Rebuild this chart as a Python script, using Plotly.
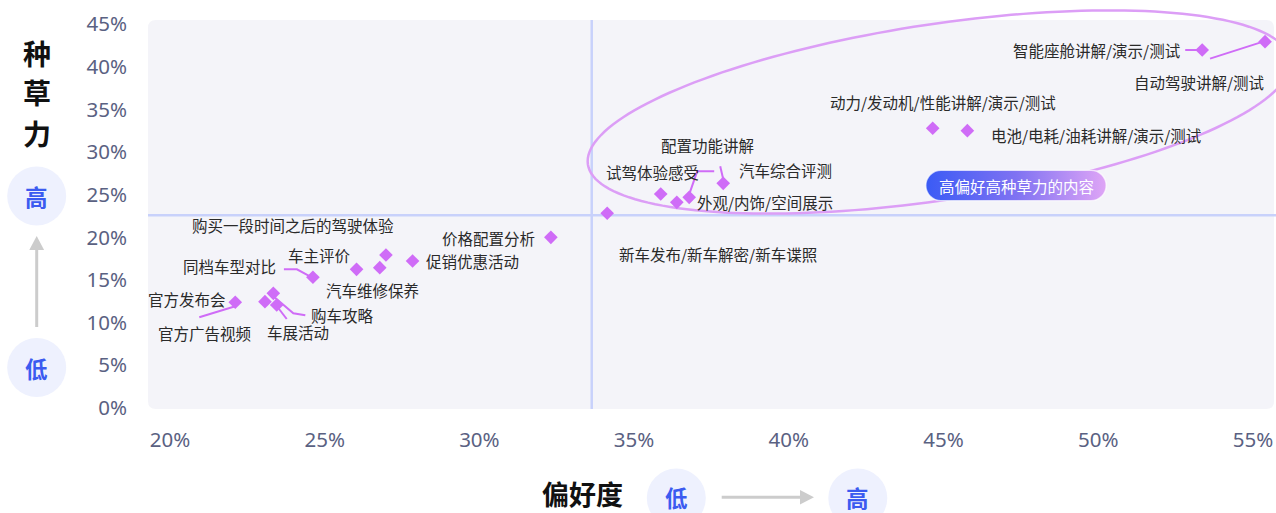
import math
import base64
import plotly.graph_objects as go

# ---------------- data ----------------
categories = [
    "智能座舱讲解/演示/测试", "自动驾驶讲解/测试", "动力/发动机/性能讲解/演示/测试",
    "电池/电耗/油耗讲解/演示/测试", "配置功能讲解", "试驾体验感受", "汽车综合评测",
    "外观/内饰/空间展示", "新车发布/新车解密/新车谍照", "价格配置分析", "促销优惠活动",
    "购买一段时间之后的驾驶体验", "车主评价", "汽车维修保养", "同档车型对比",
    "官方发布会", "官方广告视频", "购车攻略", "车展活动",
]
preference = [53.36, 55.39, 44.65, 45.77, 36.78, 35.86, 37.88, 36.38, 34.13, 32.31,
              27.84, 26.98, 26.03, 26.78, 24.62, 23.07, 22.11, 23.34, 23.45]
seeding = [41.95, 42.93, 32.78, 32.50, 24.69, 25.08, 26.33, 24.10, 22.82, 20.00,
           17.23, 17.93, 16.25, 16.44, 15.32, 12.46, 12.39, 13.44, 12.07]

avg_preference = 33.63
avg_seeding = 22.6

x_tick_vals = [20, 25, 30, 35, 40, 45, 50, 55]
x_tick_text = ["20%", "25%", "30%", "35%", "40%", "45%", "50%", "55%"]
y_tick_vals = [0, 5, 10, 15, 20, 25, 30, 35, 40, 45]
y_tick_text = ["0%", "5%", "10%", "15%", "20%", "25%", "30%", "35%", "40%", "45%"]

highlight_text = "高偏好高种草力的内容"

# ---------------- label layout (pixel offsets from each point, screen y down) ----------------
label_layout = {
    "智能座舱讲解/演示/测试": ("right", -21, 0, [(-17, 0), (-5, 0)]),
    "自动驾驶讲解/测试": ("right", 0, 40, [(-55, 17), (-5, 1)]),
    "动力/发动机/性能讲解/演示/测试": ("center", 10, -26, None),
    "电池/电耗/油耗讲解/演示/测试": ("left", 23, 4, None),
    "配置功能讲解": ("center", 18, -52, [(25, -26), (8, -26), (0, -3)]),
    "试驾体验感受": ("right", 39, -22, None),
    "汽车综合评测": ("left", 15, -13, [(-3, -17), (0, -4)]),
    "外观/内饰/空间展示": ("left", 19, 0, None),
    "新车发布/新车解密/新车谍照": ("left", 11, 41, None),
    "价格配置分析": ("right", -15, 1, None),
    "促销优惠活动": ("left", 12, 0, None),
    "购买一段时间之后的驾驶体验": ("right", 9, -30, None),
    "车主评价": ("right", -5, -14, None),
    "汽车维修保养": ("center", -7, 22, None),
    "同档车型对比": ("right", -36, -11, [(-29, -8), (-16, -8), (-3, -1)]),
    "官方发布会": ("right", -38, -3, None),
    "官方广告视频": ("center", -31, 31, [(-36, 15), (0, 4)]),
    "购车攻略": ("left", 37, 22, [(0, 3), (20, 20), (32, 22)]),
    "车展活动": ("center", 21, 27, [(0, 1), (10, 14)]),
}

W, H = 1276, 513
ML, MR, MT, MB = 148, 2, 20, 104
PW, PH = W - ML - MR, H - MT - MB

def P(X, Y):
    return ((X - ML) / PW, (H - MB - Y) / PH)

PURPLE = "#cf6cf7"
CJK = "Noto Sans CJK SC"

fig = go.Figure()
fig.add_trace(go.Scatter(
    x=preference, y=seeding, mode="markers",
    marker=dict(symbol="diamond", size=10.5, color=PURPLE, line=dict(width=0)),
    hoverinfo="skip", showlegend=False,
))

shapes = []
annotations = []

def rr_path(x0, y0, x1, y1, rad):
    a = P(x0 + rad, y0); b = P(x1 - rad, y0); c = P(x1, y0); d = P(x1, y0 + rad)
    e = P(x1, y1 - rad); f = P(x1, y1); g = P(x1 - rad, y1); h = P(x0 + rad, y1)
    i = P(x0, y1); j = P(x0, y1 - rad); k = P(x0, y0 + rad); l = P(x0, y0)
    s = lambda p: f"{p[0]:.5f},{p[1]:.5f}"
    return (f"M{s(a)} L{s(b)} Q{s(c)} {s(d)} L{s(e)} Q{s(f)} {s(g)} L{s(h)} "
            f"Q{s(i)} {s(j)} L{s(k)} Q{s(l)} {s(a)} Z")

# rounded plot background
shapes.append(dict(type="path", xref="paper", yref="paper", path=rr_path(148, 20, 1274, 409, 8),
                   fillcolor="#f4f4f9", line=dict(width=0), layer="below"))

# reference lines
shapes.append(dict(type="line", xref="x", yref="paper", x0=avg_preference, x1=avg_preference,
                   y0=0, y1=1, line=dict(color="#c8d1fb", width=2.5), layer="below"))
shapes.append(dict(type="line", xref="paper", yref="y", x0=0, x1=1.002, y0=avg_seeding,
                   y1=avg_seeding, line=dict(color="#c8d1fb", width=2.5), layer="below"))

# highlight ellipse
cx, cy, ea, eb, th = 939, 112, 355, 88, math.radians(-8.5)
ep = []
for k in range(181):
    t = 2 * math.pi * k / 180
    X = cx + ea * math.cos(t) * math.cos(th) - eb * math.sin(t) * math.sin(th)
    Y = cy + ea * math.cos(t) * math.sin(th) + eb * math.sin(t) * math.cos(th)
    px, py = P(X, Y)
    ep.append(f"{px:.5f},{py:.5f}")
shapes.append(dict(type="path", xref="paper", yref="paper", path="M" + " L".join(ep) + " Z",
                   line=dict(color="#dc9ef6", width=2.5), fillcolor="rgba(0,0,0,0)", layer="below"))

# labels and leader lines
for name, xv, yv in zip(categories, preference, seeding):
    anchor, dx, dy, leader = label_layout[name]
    annotations.append(dict(
        x=xv, y=yv, xref="x", yref="y", text=name, showarrow=False,
        xanchor=anchor, yanchor="middle", xshift=dx, yshift=-dy, borderpad=0,
        font=dict(family=CJK, size=15.5, color="#2a2a2a"),
    ))
    if leader:
        path = "M" + " L".join(f"{ox},{-oy}" for ox, oy in leader)
        shapes.append(dict(type="path", xref="x", yref="y", xsizemode="pixel", ysizemode="pixel",
                           xanchor=xv, yanchor=yv, path=path,
                           line=dict(color=PURPLE, width=2), layer="above"))

# gradient pill
svg = ("<svg xmlns='http://www.w3.org/2000/svg' width='182' height='32' viewBox='0 0 182 32'>"
       "<defs><linearGradient id='g' x1='0' x2='1' y1='0' y2='0'>"
       "<stop offset='0' stop-color='#3a5bf5'/><stop offset='0.5' stop-color='#7f72f2'/>"
       "<stop offset='1' stop-color='#dfa5f6'/></linearGradient></defs>"
       "<rect x='0.75' y='0.75' width='180.5' height='30.5' rx='15.25' fill='url(#g)' "
       "stroke='#ffffff' stroke-opacity='0.7' stroke-width='1.5'/></svg>")
src = "data:image/svg+xml;base64," + base64.b64encode(svg.encode()).decode()
bx, by = P(925, 169.5)
bx2, by2 = P(1107, 201.5)
images = [dict(source=src, xref="paper", yref="paper", x=bx, y=by, sizex=bx2 - bx, sizey=by - by2,
               xanchor="left", yanchor="top", sizing="stretch", layer="above")]
tx, ty = P(1016, 185.5)
annotations.append(dict(x=tx, y=ty, xref="paper", yref="paper", text=highlight_text, showarrow=False,
                        xanchor="center", yanchor="middle",
                        font=dict(family=CJK, size=15.5, color="#ffffff")))

# axis decorations
def circle(cxp, cyp, rad):
    x0, y0 = P(cxp - rad, cyp + rad)
    x1, y1 = P(cxp + rad, cyp - rad)
    shapes.append(dict(type="circle", xref="paper", yref="paper", x0=x0, y0=y0, x1=x1, y1=y1,
                       fillcolor="#eef1fe", line=dict(width=0), layer="below"))

def text(X, Y, s, size, color, bold=False):
    px, py = P(X, Y)
    annotations.append(dict(x=px, y=py, xref="paper", yref="paper", text=s, showarrow=False,
                            xanchor="center", yanchor="middle", borderpad=0,
                            font=dict(family=CJK, size=size, color=color,
                                      weight="bold" if bold else "normal")))

for ch, yy in zip("种草力", [53, 92, 133]):
    text(36.5, yy, ch, 28, "#111111", bold=True)
text(582.5, 493.5, "偏好度", 27, "#111111", bold=True)

for (ccx, ccy, s, ty_) in [(36.7, 196, "高", 196), (36.7, 367.5, "低", 367.5),
                           (676.3, 498, "低", 497), (857.8, 498, "高", 497)]:
    circle(ccx, ccy, 29.5)
    text(ccx, ty_, s, 22.5, "#3b5bf0", bold=True)

def seg(X0, Y0, X1, Y1):
    a = P(X0, Y0); b = P(X1, Y1)
    shapes.append(dict(type="line", xref="paper", yref="paper", x0=a[0], y0=a[1], x1=b[0], y1=b[1],
                       line=dict(color="#cccccc", width=3), layer="below"))

def tri(pts3):
    pp = [P(*q) for q in pts3]
    path = "M" + " L".join(f"{p[0]:.5f},{p[1]:.5f}" for p in pp) + " Z"
    shapes.append(dict(type="path", xref="paper", yref="paper", path=path,
                       fillcolor="#cccccc", line=dict(width=0), layer="below"))

seg(36.7, 327, 36.7, 249)
tri([(29.3, 250), (44.1, 250), (36.7, 236)])
seg(721.7, 497.3, 801, 497.3)
tri([(800, 490), (800, 504.6), (814, 497.3)])

tickfont = dict(family="Noto Sans", size=20.5, color="#5a6182")
fig.update_layout(
    width=W, height=H,
    margin=dict(l=ML, r=MR, t=MT, b=MB, pad=0),
    paper_bgcolor="#ffffff", plot_bgcolor="rgba(0,0,0,0)",
    shapes=shapes, annotations=annotations, images=images,
    showlegend=False,
    xaxis=dict(range=[19.29, 55.68], tickvals=x_tick_vals, ticktext=x_tick_text,
               showgrid=False, zeroline=False, showline=False, ticks="",
               tickfont=tickfont, ticklabelstandoff=16, fixedrange=True),
    yaxis=dict(range=[-0.12, 45.47], tickvals=y_tick_vals, ticktext=y_tick_text,
               showgrid=False, zeroline=False, showline=False, ticks="",
               tickfont=tickfont, ticklabelstandoff=20, fixedrange=True),
)

fig.write_html("out.html", config={"displayModeBar": False},
               post_script="document.body.style.margin='0';document.body.style.overflow='hidden';")
